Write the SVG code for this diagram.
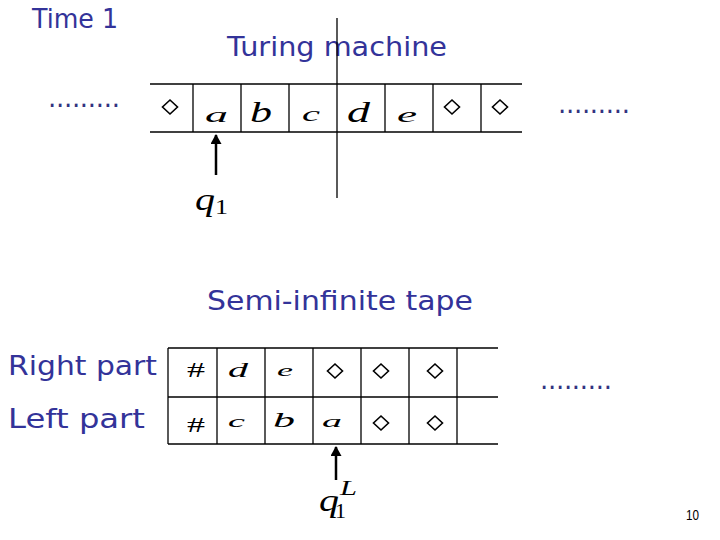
<svg xmlns="http://www.w3.org/2000/svg" width="720" height="540" viewBox="0 0 720 540">
<style>
.lbl{font-family:"DejaVu Sans","Liberation Sans",sans-serif;font-size:26px;fill:#333399}
.dots{font-family:"DejaVu Sans",sans-serif;font-size:26px;letter-spacing:-0.3px;fill:#333380}
.sym{font-family:"Liberation Serif","Times New Roman",serif;font-style:italic;fill:#000}
.rom{font-family:"Liberation Serif","Times New Roman",serif;fill:#000}
.ln{stroke:#000;stroke-width:1.3;fill:none}
.dia{stroke:#000;stroke-width:1.6;fill:none}
.arr{stroke:#000;stroke-width:2.5;fill:none}
</style>
<defs>
<path id="dm" d="M0,-7 L7.5,0 L0,7 L-7.5,0 Z"/>
<marker id="ah" markerWidth="10" markerHeight="11" refX="9" refY="5.5" orient="auto" markerUnits="userSpaceOnUse" viewBox="0 0 10 11">
<path d="M0,0 L10,5.5 L0,11 Z" fill="#000"/>
</marker>
</defs>
<rect width="720" height="540" fill="#fff"/>

<g id="titles">
<text class="lbl" x="32" y="28" textLength="86" lengthAdjust="spacingAndGlyphs">Time 1</text>
<text class="lbl" x="227" y="56" textLength="220" lengthAdjust="spacingAndGlyphs">Turing machine</text>
<text class="lbl" x="207" y="310" textLength="266" lengthAdjust="spacingAndGlyphs">Semi-infinite tape</text>
<text class="lbl" x="8" y="375" textLength="149" lengthAdjust="spacingAndGlyphs">Right part</text>
<text class="lbl" x="8" y="428" textLength="137" lengthAdjust="spacingAndGlyphs">Left part</text>
<text class="dots" x="48" y="107">.........</text>
<text class="dots" x="558" y="113">.........</text>
<text class="dots" x="540" y="389">.........</text>
<text x="686" y="520" font-family="Liberation Sans Narrow,Liberation Sans,sans-serif" font-size="14" textLength="13" lengthAdjust="spacingAndGlyphs">10</text>
</g>

<g id="tape1">
<line class="ln" x1="150" y1="84" x2="522" y2="84"/>
<line class="ln" x1="150" y1="132" x2="522" y2="132"/>
<line class="ln" x1="193" y1="84" x2="193" y2="132"/>
<line class="ln" x1="241" y1="84" x2="241" y2="132"/>
<line class="ln" x1="289" y1="84" x2="289" y2="132"/>
<line class="ln" x1="385" y1="84" x2="385" y2="132"/>
<line class="ln" x1="433" y1="84" x2="433" y2="132"/>
<line class="ln" x1="481" y1="84" x2="481" y2="132"/>
<line class="ln" x1="337" y1="18" x2="337" y2="198"/>
<use href="#dm" class="dia" x="170" y="107"/>
<use href="#dm" class="dia" x="452" y="107"/>
<use href="#dm" class="dia" x="500" y="107"/>
<text class="sym" x="205" y="122" font-size="22" textLength="23" lengthAdjust="spacingAndGlyphs">a</text>
<text class="sym" x="250" y="122" font-size="29" textLength="22" lengthAdjust="spacingAndGlyphs">b</text>
<text class="sym" x="302" y="121" font-size="22" textLength="18" lengthAdjust="spacingAndGlyphs">c</text>
<text class="sym" x="347" y="122" font-size="29" textLength="23" lengthAdjust="spacingAndGlyphs">d</text>
<text class="sym" x="397" y="122" font-size="22" textLength="20" lengthAdjust="spacingAndGlyphs">e</text>
</g>

<g id="head1">
<text class="sym" x="195" y="210" font-size="32" textLength="20" lengthAdjust="spacingAndGlyphs">q</text>
<text class="rom" x="215" y="214" font-size="22" textLength="13" lengthAdjust="spacingAndGlyphs">1</text>
</g>

<g id="tape2">
<line class="ln" x1="168" y1="348" x2="498" y2="348"/>
<line class="ln" x1="168" y1="397" x2="498" y2="397"/>
<line class="ln" x1="168" y1="444" x2="498" y2="444"/>
<line class="ln" x1="168" y1="348" x2="168" y2="444"/>
<line class="ln" x1="217" y1="348" x2="217" y2="444"/>
<line class="ln" x1="265" y1="348" x2="265" y2="444"/>
<line class="ln" x1="313" y1="348" x2="313" y2="444"/>
<line class="ln" x1="361" y1="348" x2="361" y2="444"/>
<line class="ln" x1="409" y1="348" x2="409" y2="444"/>
<line class="ln" x1="457" y1="348" x2="457" y2="444"/>
<text class="rom" x="187" y="377" font-size="20" textLength="18" lengthAdjust="spacingAndGlyphs">#</text>
<text class="sym" x="228" y="377" font-size="22" textLength="20" lengthAdjust="spacingAndGlyphs">d</text>
<text class="sym" x="277" y="376" font-size="17" textLength="16" lengthAdjust="spacingAndGlyphs">e</text>
<use href="#dm" class="dia" x="335" y="371"/>
<use href="#dm" class="dia" x="381" y="371"/>
<use href="#dm" class="dia" x="435" y="371"/>
<text class="rom" x="187" y="432" font-size="20" textLength="18" lengthAdjust="spacingAndGlyphs">#</text>
<text class="sym" x="228" y="427" font-size="17" textLength="17" lengthAdjust="spacingAndGlyphs">c</text>
<text class="sym" x="273" y="427" font-size="22" textLength="22" lengthAdjust="spacingAndGlyphs">b</text>
<text class="sym" x="322" y="427" font-size="17" textLength="20" lengthAdjust="spacingAndGlyphs">a</text>
<use href="#dm" class="dia" x="381" y="423"/>
<use href="#dm" class="dia" x="435" y="423"/>
</g>

<g id="head2">
<text class="sym" x="319" y="511" font-size="32" textLength="20" lengthAdjust="spacingAndGlyphs">q</text>
<text class="rom" x="335" y="518" font-size="22" textLength="11" lengthAdjust="spacingAndGlyphs">1</text>
<text class="sym" x="340" y="495" font-size="22" textLength="17" lengthAdjust="spacingAndGlyphs">L</text>
</g>

<g id="connectors">
<line class="arr" x1="216" y1="175" x2="216" y2="135" marker-end="url(#ah)"/>
<line class="arr" x1="336" y1="480" x2="336" y2="447" marker-end="url(#ah)"/>
</g>
</svg>
